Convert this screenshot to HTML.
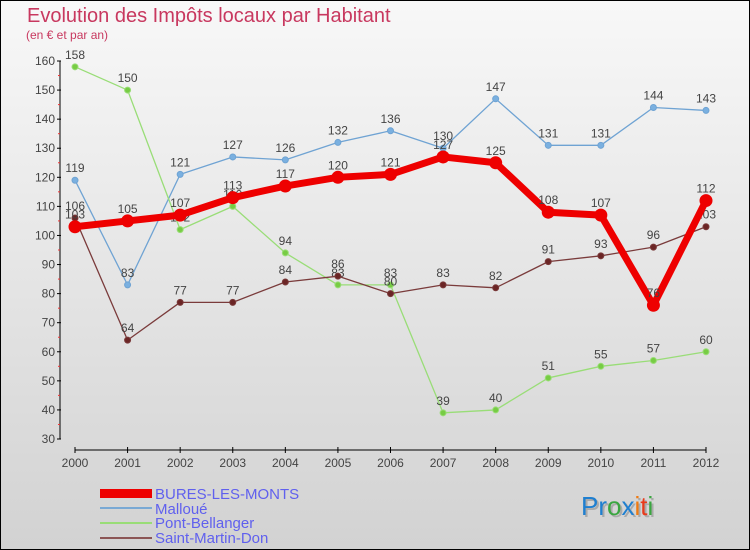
<!DOCTYPE html>
<html><head><meta charset="utf-8"><style>
html,body{margin:0;padding:0}
body{width:750px;height:550px;overflow:hidden;font-family:"Liberation Sans",sans-serif}
#frame{position:absolute;left:0;top:0;width:748px;height:548px;border:1px solid #000;background:linear-gradient(#f8f8f8,#d2d2d2)}
</style></head><body>
<div id="frame">
<svg id="chart" width="750" height="550" style="position:absolute;left:-1px;top:-1px">
<text x="27" y="22" font-size="20" fill="#c8385f">Evolution des Impôts locaux par Habitant</text>
<text x="26" y="39" font-size="12" fill="#c8385f">(en € et par an)</text>
<g id="axes"></g><g id="series"></g>
<g font-size="15" fill="#6060ee">
<rect x="100" y="489" width="52" height="9" fill="#e00"/>
<text x="155" y="499">BURES-LES-MONTS</text>
<line x1="100" y1="508" x2="152" y2="508" stroke="#7aa9d4" stroke-width="2"/>
<text x="155" y="514">Malloué</text>
<line x1="100" y1="523" x2="152" y2="523" stroke="#99dd77" stroke-width="2"/>
<text x="155" y="528">Pont-Bellanger</text>
<line x1="100" y1="538" x2="152" y2="538" stroke="#8b5555" stroke-width="2"/>
<text x="155" y="543">Saint-Martin-Don</text>
</g>
<text x="583" y="517" font-size="26" fill="#aaa">Proxiti</text>
<text x="581" y="515" font-size="26"><tspan fill="#1f7fd0">Pr</tspan><tspan fill="#3aa640">o</tspan><tspan fill="#1f7fd0">x</tspan><tspan fill="#f07a10">i</tspan><tspan fill="#e83a1a">t</tspan><tspan fill="#3aa640">i</tspan></text>
</svg></div>
<script>
const years=[2000,2001,2002,2003,2004,2005,2006,2007,2008,2009,2010,2011,2012];
const yTicks=[30,40,50,60,70,80,90,100,110,120,130,140,150,160];
const bures=[103,105,107,113,117,120,121,127,125,108,107,76,112];
const malloue=[119,83,121,127,126,132,136,130,147,131,131,144,143];
const pont=[158,150,102,110,94,83,83,39,40,51,55,57,60];
const smd=[106,64,77,77,84,86,80,83,82,91,93,96,103];
const NS="http://www.w3.org/2000/svg";
const x=i=>75+i*(631/(years.length-1));
const y=v=>439-(v-30)*(378/130);
function mk(t,a,p){const e=document.createElementNS(NS,t);for(const k in a)e.setAttribute(k,a[k]);p.appendChild(e);return e;}
const ax=document.getElementById('axes');
let l=mk('line',{x1:60,y1:y(160),x2:60,y2:y(30),stroke:'#000'},ax);


l=mk('line',{x1:75,y1:450,x2:706,y2:450,stroke:'#000'},ax);


yTicks.forEach(v=>{mk('line',{x1:57,y1:y(v),x2:61,y2:y(v),stroke:'#000'},ax);
 if(v<160)mk('line',{x1:58,y1:y(v+5),x2:60,y2:y(v+5),stroke:'#e33'},ax);
 const t=mk('text',{x:55,y:y(v)+4,'font-size':12,fill:'#444','text-anchor':'end'},ax);t.textContent=v;
 
 });
years.forEach((yr,i)=>{mk('line',{x1:x(i),y1:447,x2:x(i),y2:453,stroke:'#000'},ax);
 const t=mk('text',{x:x(i),y:467,'font-size':12,fill:'#444','text-anchor':'middle'},ax);t.textContent=yr;
 
 });
const sg=document.getElementById('series');
function draw(arr,col,w,r,dot,name){const g=mk('g',{},sg);
 
 
 const p=mk('polyline',{points:arr.map((v,i)=>x(i)+','+y(v)).join(' '),fill:'none',stroke:col,'stroke-width':w,'stroke-linejoin':'round'},g);
 
 
 arr.forEach((v,i)=>{const c=mk('circle',{cx:x(i),cy:y(v),r:r,fill:dot,stroke:col,'stroke-width':1},g);
  
  
  const t=mk('text',{x:x(i),y:y(v)-8,'font-size':12,fill:'#444','text-anchor':'middle'},g);t.textContent=v;
  
  });}
draw(malloue,'#6fa3d3',1.3,3,'#7ab0e0','series-malloue');
draw(pont,'#99dd77',1.3,3,'#77cc44','series-pont-bellanger');
draw(smd,'#7a3b3b',1.3,3,'#6b2525','series-saint-martin-don');
draw(bures,'#ee0000',7,6,'#ee0000','series-bures-les-monts');
</script>
</body></html>
